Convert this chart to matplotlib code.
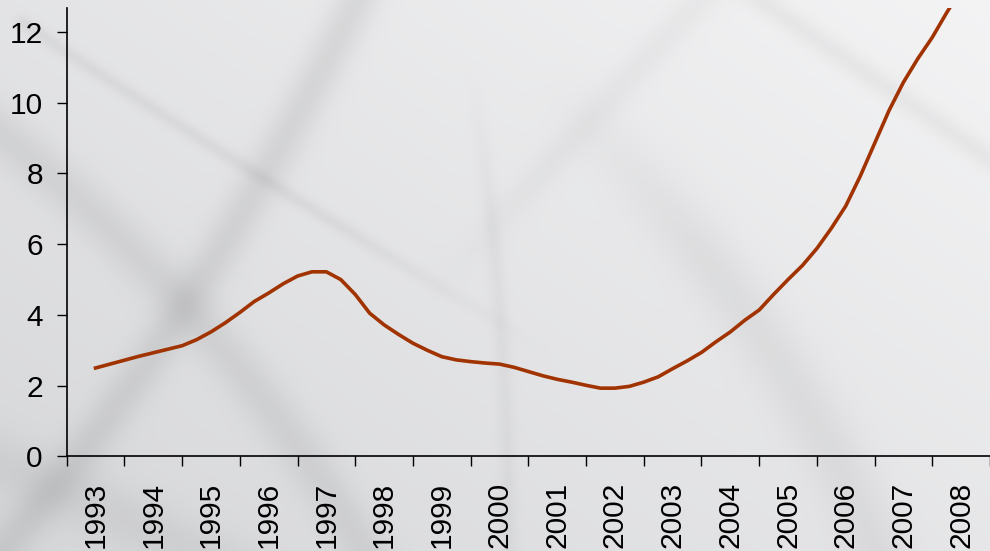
import numpy as np
from matplotlib import pyplot as plt

# quarterly series, 1993 - 2008
anos = [1993.00, 1993.25, 1993.50, 1993.75,
        1994.00, 1994.25, 1994.50, 1994.75,
        1995.00, 1995.25, 1995.50, 1995.75,
        1996.00, 1996.25, 1996.50, 1996.75,
        1997.00, 1997.25, 1997.50, 1997.75,
        1998.00, 1998.25, 1998.50, 1998.75,
        1999.00, 1999.25, 1999.50, 1999.75,
        2000.00, 2000.25, 2000.50, 2000.75,
        2001.00, 2001.25, 2001.50, 2001.75,
        2002.00, 2002.25, 2002.50, 2002.75,
        2003.00, 2003.25, 2003.50, 2003.75,
        2004.00, 2004.25, 2004.50, 2004.75,
        2005.00, 2005.25, 2005.50, 2005.75,
        2006.00, 2006.25, 2006.50, 2006.75,
        2007.00, 2007.25, 2007.50, 2007.75,
        2008.00]
valores = [2.50, 2.61, 2.72, 2.83,
           2.93, 3.03, 3.13, 3.30,
           3.52, 3.78, 4.07, 4.38,
           4.62, 4.88, 5.10, 5.22,
           5.22, 5.00, 4.58, 4.05,
           3.72, 3.45, 3.20, 3.00,
           2.82, 2.73, 2.68, 2.64,
           2.61, 2.52, 2.40, 2.28,
           2.18, 2.10, 2.01, 1.93,
           1.93, 1.98, 2.10, 2.25,
           2.48, 2.70, 2.94, 3.24,
           3.52, 3.85, 4.14, 4.58,
           5.00, 5.40, 5.88, 6.45,
           7.08, 7.92, 8.85, 9.78,
           10.58, 11.25, 11.85, 12.55,
           13.20]
rotulos_x = [str(a) for a in range(1993, 2009)]
ticks_y = [0, 2, 4, 6, 8, 10, 12]

plt.rcParams['font.family'] = ['Liberation Sans', 'DejaVu Sans']

W, H = 990, 551
fig = plt.figure(figsize=(W/100, H/100), dpi=100)

# fundo: gradiente cinza com faixas esbatidas (calculado numa grelha de 4 px)
yy, xx = np.mgrid[0:H+4:4, 0:W+4:4].astype(float)
grad = 0.55*(xx/W) + 0.45*(1 - yy/H)
sombra = np.zeros_like(xx)

def faixa(xs, ys, sigma, alfa, ini=False, fim=False):
    t = np.linspace(0, 1, 160)
    c = np.polyfit(np.linspace(0, 1, len(xs)), np.array([xs, ys]).T, 2)
    px = np.polyval(c[:, 0], t)
    py = np.polyval(c[:, 1], t)
    d2 = (xx[..., None] - px)**2 + (yy[..., None] - py)**2
    i = d2.argmin(axis=2)
    dmin = np.take_along_axis(d2, i[..., None], axis=2)[..., 0]
    peso = np.ones_like(t)
    if ini:
        peso *= np.clip(t/0.35, 0, 1)
    if fim:
        peso *= np.clip((1 - t)/0.35, 0, 1)
    return alfa*np.exp(-dmin/(2*sigma**2))*peso[i]

sombra += faixa([360, 290, 180, 60, -20], [-20, 150, 310, 470, 580], 15, 0.075)
sombra += faixa([-30, 140, 260, 380], [110, 260, 400, 580], 17, 0.065)
sombra += faixa([20, 250, 560], [20, 170, 360], 5, 0.05, fim=True)
sombra += faixa([560, 780, 1010], [-140, 10, 170], 8, 0.04)
sombra += faixa([470, 500, 510], [60, 300, 580], 6, 0.035, ini=True)
sombra += faixa([540, 700, 810, 890], [70, 250, 410, 580], 22, 0.05, ini=True)
sombra += faixa([720, 600, 420], [-20, 110, 310], 12, 0.03, fim=True)
sombra += faixa([-20, 100, 240], [460, 510, 580], 22, 0.05)

cor_esc = np.array([0.84, 0.843, 0.85])
cor_cla = np.array([0.955, 0.955, 0.96])
img = cor_esc + (cor_cla - cor_esc)*grad[..., None]
img = img*(1 - sombra[..., None])

fundo = fig.add_axes([0, 0, 1, 1], zorder=0)
fundo.imshow(img, extent=[0, W, H, 0], aspect='auto', interpolation='bilinear')
fundo.set_xlim(0, W)
fundo.set_ylim(H, 0)
fundo.axis('off')

ax = fig.add_axes([66.7/W, 1-456.4/H, 1-66.7/W, (456.4-8)/H], zorder=1)
ax.patch.set_alpha(0)

ax.plot(anos, valores, color='#A03300', lw=2.6, solid_joinstyle='round')

ax.set_xlim(1992.5, 2008.36)
ax.set_ylim(0, 12.68)

ax.set_xticks(np.arange(1992.5, 2009, 1.0))
ax.set_xticklabels([])
ax.set_xticks(np.arange(1993, 2009), minor=True)
ax.set_xticklabels(rotulos_x, minor=True, rotation=90, fontsize=21.5)
ax.tick_params(axis='x', which='major', length=7.2, width=1, direction='out')
ax.tick_params(axis='x', which='minor', length=0, pad=18)
ax.set_yticks(ticks_y)
ax.set_yticklabels([str(v) for v in ticks_y], fontsize=21.5)
ax.tick_params(axis='y', length=7.2, width=1, pad=10)

for s in ['top', 'right']:
    ax.spines[s].set_visible(False)
for s in ['left', 'bottom']:
    ax.spines[s].set_linewidth(1.2)

fig.savefig('out.png', dpi=100)
